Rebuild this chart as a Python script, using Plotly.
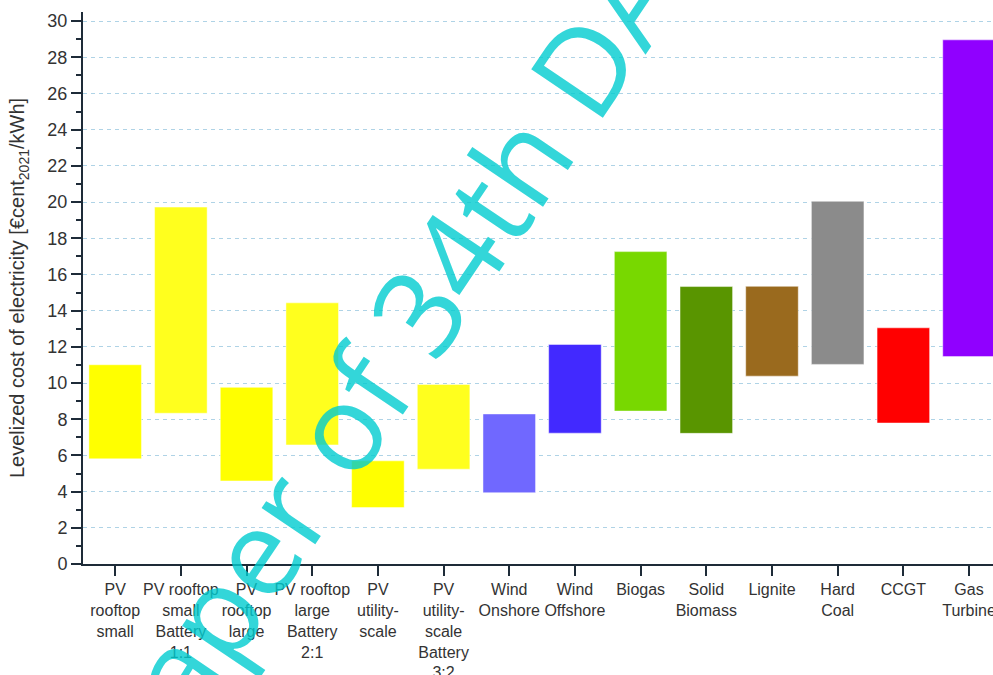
import plotly.graph_objects as go

# Technology categories (tick labels, line-broken as displayed)
categories = [
    "PV<br>rooftop<br>small",
    "PV rooftop<br>small<br>Battery<br>1:1",
    "PV<br>rooftop<br>large",
    "PV rooftop<br>large<br>Battery<br>2:1",
    "PV<br>utility-<br>scale",
    "PV<br>utility-<br>scale<br>Battery<br>3:2",
    "Wind<br>Onshore",
    "Wind<br>Offshore",
    "Biogas",
    "Solid<br>Biomass",
    "Lignite",
    "Hard<br>Coal",
    "CCGT",
    "Gas<br>Turbine",
]

# LCOE ranges in €cent(2021)/kWh
lcoe_min = [5.81, 8.33, 4.59, 6.58, 3.12, 5.24, 3.94, 7.23, 8.45, 7.22, 10.38, 11.03, 7.79, 11.46]
lcoe_max = [11.01, 19.72, 9.76, 14.43, 5.70, 9.92, 8.29, 12.13, 17.26, 15.33, 15.34, 20.04, 13.05, 28.96]

bar_colors = [
    "#FFFF00", "#FFFF1E", "#FFFF00", "#FFFF1E", "#FFFF00", "#FFFF1E",
    "#7068FF", "#4229FF", "#78D800", "#599500", "#9A6A1E", "#8B8B8B",
    "#FF0000", "#9000FF",
]

y_ticks = list(range(0, 31, 2))

axis_color = "#1E2B38"
text_color = "#333333"

fig = go.Figure()
fig.add_trace(go.Bar(
    x=categories,
    y=[hi - lo for lo, hi in zip(lcoe_min, lcoe_max)],
    base=lcoe_min,
    width=0.8,
    marker=dict(color=bar_colors, line=dict(color="rgba(255,255,255,0.45)", width=1)),
    showlegend=False,
))

fig.update_layout(
    width=993,
    height=675,
    margin=dict(l=83, r=0, t=12, b=111, pad=0),
    paper_bgcolor="white",
    plot_bgcolor="white",
    font=dict(family="Liberation Sans, Arial, sans-serif", color=text_color),
    bargap=0.2,
    annotations=[
        dict(
            text="Paper of 34th DA",
            xref="paper", yref="paper",
            x=0.328, y=0.366,
            xanchor="center", yanchor="middle",
            showarrow=False,
            textangle=-56,
            font=dict(family="Open Sans", size=121,
                      color="rgba(0,204,208,0.8)"),
        )
    ],
)

fig.update_xaxes(
    type="category",
    range=[-0.49, 13.365],
    automargin=False,
    showline=True, linecolor=axis_color, linewidth=2,
    ticks="outside", ticklen=10, tickwidth=2, tickcolor=axis_color,
    tickfont=dict(size=16, color=text_color),
    showgrid=False, zeroline=False,
)

fig.update_yaxes(
    range=[0, 30.5],
    tickvals=y_ticks,
    automargin=False,
    showline=True, linecolor=axis_color, linewidth=2,
    ticks="outside", ticklen=10, tickwidth=2, tickcolor=axis_color,
    tickfont=dict(size=18, color=text_color),
    minor=dict(dtick=1, tick0=0, ticks="outside", ticklen=5, tickwidth=2,
               tickcolor=axis_color, showgrid=False),
    showgrid=True, gridcolor="#AFD3E6", gridwidth=1, griddash="4px,4px",
    zeroline=False,
    title=dict(text="Levelized cost of electricity [€cent<sub>2021</sub>/kWh]",
               font=dict(size=20, color=text_color), standoff=17),
)

fig.write_html("out.html")
